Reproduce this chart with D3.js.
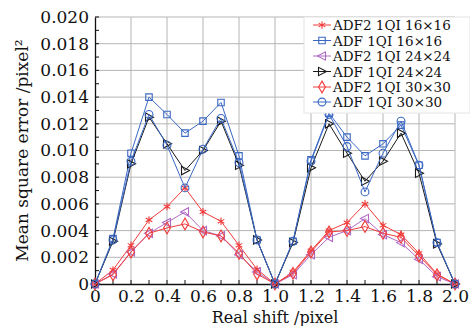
<!DOCTYPE html>
<html>
<head>
<meta charset="utf-8">
<script src="https://cdn.jsdelivr.net/npm/d3@7"></script>
<style>
  body { margin: 0; background: #fff; }
  text { font-family: "DejaVu Serif", serif; fill: #111; }
</style>
</head>
<body>
<svg id="chart" width="470" height="326"></svg>
<script>
let width = 470;
let height = 326;
let margin = { top: 17, right: 15, bottom: 42, left: 95 };

// real shift (pixel)
let shifts = [0, 0.1, 0.2, 0.3, 0.4, 0.5, 0.6, 0.7, 0.8, 0.9, 1.0,
              1.1, 1.2, 1.3, 1.4, 1.5, 1.6, 1.7, 1.8, 1.9, 2.0];

let adf2_16 = [0, 0.00105, 0.0029, 0.0048, 0.0058, 0.0072, 0.0054, 0.0047, 0.0029, 0.0011, 0,
               0.0009, 0.0025, 0.0040, 0.0046, 0.0060, 0.0044, 0.0037, 0.0023, 0.00075, 0];
let adf_16  = [0, 0.0034, 0.0098, 0.0140, 0.0127, 0.0113, 0.0122, 0.0136, 0.0096, 0.0033, 0,
               0.0032, 0.0093, 0.0128, 0.0110, 0.0096, 0.0105, 0.0119, 0.0089, 0.0031, 0];
let adf2_24 = [0, 0.00075, 0.0024, 0.0038, 0.0046, 0.0054, 0.0040, 0.0036, 0.0022, 0.0009, 0,
               0.0007, 0.0022, 0.0035, 0.0040, 0.0049, 0.0037, 0.0031, 0.00185, 0.00055, 0];
let adf_24  = [0, 0.0032, 0.0090, 0.0125, 0.0105, 0.0085, 0.0100, 0.0122, 0.0089, 0.0033, 0,
               0.0031, 0.0087, 0.0120, 0.0098, 0.0077, 0.0092, 0.0113, 0.0083, 0.0030, 0];
let adf2_30 = [0, 0.0007, 0.0024, 0.0038, 0.0042, 0.0045, 0.0039, 0.0036, 0.0023, 0.00075, 0,
               0.0008, 0.0024, 0.0039, 0.0040, 0.0043, 0.0038, 0.0035, 0.0021, 0.0007, 0];
let adf_30  = [0, 0.0033, 0.0092, 0.0127, 0.0104, 0.0072, 0.0101, 0.0124, 0.0091, 0.0033, 0,
               0.0032, 0.0092, 0.0127, 0.0103, 0.0069, 0.0098, 0.0122, 0.0089, 0.0031, 0];

let seriesNames = ["ADF2 1QI 16×16", "ADF 1QI 16×16", "ADF2 1QI 24×24",
                   "ADF 1QI 24×24", "ADF2 1QI 30×30", "ADF 1QI 30×30"];
let seriesValues = [adf2_16, adf_16, adf2_24, adf_24, adf2_30, adf_30];
let seriesColors = ["#f23b3b", "#3b68c4", "#b06ac4", "#1a1a1a", "#f23b3b", "#3b68c4"];
let seriesMarkers = ["asterisk", "square", "triLeft", "triRight", "diamond", "circle"];

let xTicks = [0, 0.2, 0.4, 0.6, 0.8, 1.0, 1.2, 1.4, 1.6, 1.8, 2.0];
let yTicks = [0, 0.002, 0.004, 0.006, 0.008, 0.010, 0.012, 0.014, 0.016, 0.018, 0.020];

let svg = d3.select("#chart");

let x = d3.scaleLinear()
    .domain([0, 2])
    .range([margin.left, width - margin.right]);

let y = d3.scaleLinear()
    .domain([0, 0.02])
    .range([height - margin.bottom, margin.top]);

// grid
svg.append("g")
    .selectAll("line")
    .data(xTicks.slice(1))
    .join("line")
    .attr("x1", d => x(d)).attr("x2", d => x(d))
    .attr("y1", y(0)).attr("y2", y(0.02))
    .attr("stroke", "#b5b5b5").attr("stroke-width", 1);

svg.append("g")
    .selectAll("line")
    .data(yTicks.slice(1))
    .join("line")
    .attr("x1", x(0)).attr("x2", x(2))
    .attr("y1", d => y(d)).attr("y2", d => y(d))
    .attr("stroke", "#b5b5b5").attr("stroke-width", 1);

// minor ticks (inside)
let xMinor = d3.range(0, 21).map(i => i / 10);
svg.append("g")
    .selectAll("line")
    .data(xMinor)
    .join("line")
    .attr("x1", d => x(d)).attr("x2", d => x(d))
    .attr("y1", y(0)).attr("y2", y(0) - 4)
    .attr("stroke", "#111");

let yMinor = d3.range(0, 21).map(i => i / 1000);
svg.append("g")
    .selectAll("line")
    .data(yMinor)
    .join("line")
    .attr("x1", x(0)).attr("x2", x(0) + 4)
    .attr("y1", d => y(d)).attr("y2", d => y(d))
    .attr("stroke", "#111");

// axes
let xAxis = svg.append("g")
    .attr("transform", `translate(0,${y(0)})`)
    .call(d3.axisBottom(x)
        .tickValues(xTicks)
        .tickSize(0)
        .tickPadding(6)
        .tickFormat(d => d === 0 ? "0" : d3.format(".1f")(d)))
    .call(g => g.select(".domain").attr("stroke", "#111").attr("stroke-width", 1.3));
xAxis.selectAll("text").style("font-size", "17px").attr("fill", "#111");

let yAxis = svg.append("g")
    .attr("transform", `translate(${x(0)},0)`)
    .call(d3.axisLeft(y)
        .tickValues(yTicks)
        .tickSize(0)
        .tickPadding(6)
        .tickFormat(d => d === 0 ? "0" : d3.format(".3f")(d)))
    .call(g => g.select(".domain").attr("stroke", "#111").attr("stroke-width", 1.3));
yAxis.selectAll("text").style("font-size", "17px").attr("fill", "#111");

// axis titles
svg.append("text")
    .attr("x", (x(0) + x(2)) / 2)
    .attr("y", 323)
    .attr("text-anchor", "middle")
    .style("font-size", "16px")
    .text("Real shift /pixel");

svg.append("text")
    .attr("transform", `translate(28,${(y(0) + y(0.02)) / 2}) rotate(-90)`)
    .attr("text-anchor", "middle")
    .style("font-size", "17px")
    .text("Mean square error /pixel²");

// marker drawing
function markerPath(type) {
  if (type === "asterisk") return d3.symbol(d3.symbolAsterisk, 40)();
  if (type === "square") return d3.symbol(d3.symbolSquare, 42)();
  if (type === "diamond") return d3.symbol(d3.symbolDiamond, 40)();
  if (type === "circle") return d3.symbol(d3.symbolCircle, 48)();
  if (type === "triLeft") return "M-4.5,0L3.5,-4.2L3.5,4.2Z";
  if (type === "triRight") return "M4.5,0L-3.5,-4.2L-3.5,4.2Z";
}

let line = d3.line()
    .x(d => x(d[0]))
    .y(d => y(d[1]));

seriesValues.forEach((vals, i) => {
  let pts = shifts.map((s, j) => [s, vals[j]]);
  let g = svg.append("g");
  g.append("path")
      .datum(pts)
      .attr("d", line)
      .attr("fill", "none")
      .attr("stroke", seriesColors[i])
      .attr("stroke-width", 1);
  g.selectAll("path.m")
      .data(pts)
      .join("path")
      .attr("class", "m")
      .attr("transform", d => `translate(${x(d[0])},${y(d[1])})`)
      .attr("d", markerPath(seriesMarkers[i]))
      .attr("fill", "none")
      .attr("stroke", seriesColors[i])
      .attr("stroke-width", 1.1);
});

// legend
let legend = svg.append("g");
legend.append("rect")
    .attr("x", 304).attr("y", 17)
    .attr("width", 166).attr("height", 96)
    .attr("fill", "#fff")
    .attr("stroke", "#e4e4e4");

let legendRows = [25, 40.5, 56, 71.5, 87, 102];
seriesNames.forEach((name, i) => {
  let row = legend.append("g").attr("transform", `translate(0,${legendRows[i]})`);
  row.append("line")
      .attr("x1", 313).attr("x2", 331)
      .attr("stroke", seriesColors[i]).attr("stroke-width", 1);
  row.append("path")
      .attr("transform", "translate(322,0)")
      .attr("d", markerPath(seriesMarkers[i]))
      .attr("fill", "none")
      .attr("stroke", seriesColors[i])
      .attr("stroke-width", 1.1);
  row.append("text")
      .attr("x", 333)
      .attr("y", 5)
      .style("font-size", "13.5px")
      .text(name);
});
</script>
</body>
</html>
